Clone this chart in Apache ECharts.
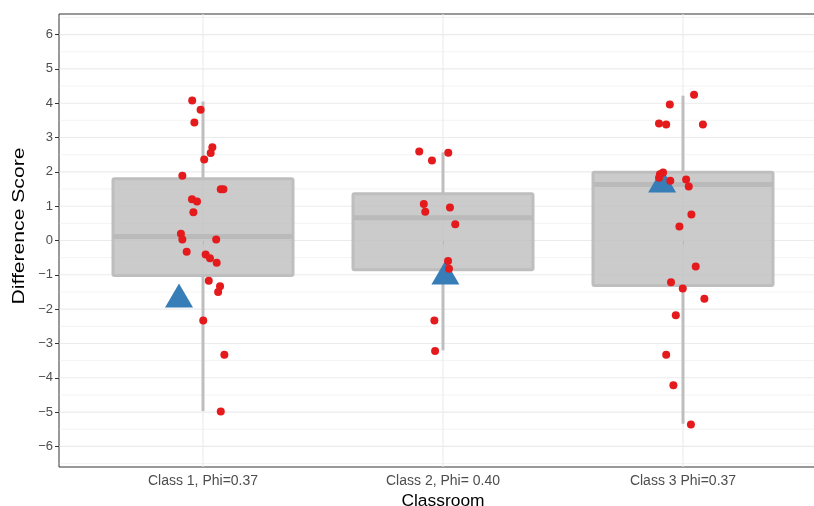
<!DOCTYPE html>
<html>
<head>
<meta charset="utf-8">
<script src="https://cdn.jsdelivr.net/npm/echarts@6/dist/echarts.min.js"></script>
<style>
  html, body { margin: 0; padding: 0; background: #ffffff; }
  #chart { width: 814px; height: 506px; }
</style>
</head>
<body>
<div id="chart"></div>
<script>
// Classroom labels (one per box, placed at x = 1, 2, 3)
var categories = ['Class 1, Phi=0.37', 'Class 2, Phi= 0.40', 'Class 3 Phi=0.37'];
var categoryPositions = [1, 2, 3];

// Y-axis ticks (major) and the half-step minor grid
var yTicks = [-6, -5, -4, -3, -2, -1, 0, 1, 2, 3, 4, 5, 6];
var yMinorTicks = [-6.5, -5.5, -4.5, -3.5, -2.5, -1.5, -0.5, 0.5, 1.5, 2.5, 3.5, 4.5, 5.5, 6.5];

// Box summaries per classroom
var boxLow    = [-4.97, -3.20, -5.34];
var boxQ1     = [-1.02, -0.85, -1.31];
var boxMedian = [ 0.12,  0.66,  1.63];
var boxQ3     = [ 1.80,  1.36,  1.99];
var boxHigh   = [ 4.05,  2.57,  4.22];

// Triangle markers (jittered position, score)
var triangleX = [0.900, 2.010, 2.913];
var triangleY = [-1.72, -1.05, 1.63];

// Individual difference scores (jittered x, score)
var class1X = [0.955, 0.990, 0.964, 1.039, 1.032, 1.005, 0.914, 1.074, 1.085, 0.954, 0.975, 0.960, 0.908,
               0.914, 1.055, 0.932, 1.011, 1.029, 1.057, 1.024, 1.071, 1.063, 1.001, 1.089, 1.074];
var class1Y = [4.08, 3.81, 3.44, 2.72, 2.55, 2.36, 1.89, 1.49, 1.49, 1.20, 1.14, 0.82, 0.20,
               0.03, 0.03, -0.33, -0.41, -0.52, -0.65, -1.17, -1.33, -1.50, -2.33, -3.33, -4.98];
var class2X = [1.901, 2.022, 1.954, 1.920, 1.926, 2.029, 2.051, 2.021, 2.025, 1.964, 1.967];
var class2Y = [2.59, 2.56, 2.33, 1.06, 0.84, 0.96, 0.47, -0.60, -0.82, -2.33, -3.22];
var class3X = [3.046, 2.945, 2.900, 2.930, 3.083, 2.917, 2.904, 2.900, 2.947, 3.013, 3.024, 3.035, 2.985,
               3.053, 2.950, 2.999, 3.089, 2.970, 2.930, 2.960, 3.033];
var class3Y = [4.25, 3.96, 3.41, 3.38, 3.38, 1.98, 1.93, 1.83, 1.74, 1.78, 1.57, 0.76, 0.41,
               -0.76, -1.22, -1.40, -1.70, -2.18, -3.33, -4.22, -5.36];

var FONT = '"Liberation Sans", Arial, Helvetica, sans-serif';
var X_MIN = 0.4, X_MAX = 3.6, Y_MIN = -6.6, Y_MAX = 6.6;
var BOX_WIDTH = 0.75;

function pairs(xs, ys) {
  return xs.map(function (x, i) { return [x, ys[i]]; });
}
var scorePoints = pairs(class1X, class1Y).concat(pairs(class2X, class2Y), pairs(class3X, class3Y));
var trianglePoints = pairs(triangleX, triangleY);
var boxRows = categoryPositions.map(function (x, i) {
  return [x, boxLow[i], boxQ1[i], boxMedian[i], boxQ3[i], boxHigh[i]];
});

function fmtNum(v) {
  return v < 0 ? '\u2212' + Math.abs(v) : String(v);
}

// Horizontal grid line renderer (major or minor)
function hLineRenderer(width) {
  return function (params, api) {
    var cs = params.coordSys;
    var y = api.coord([X_MIN, api.value(0)])[1];
    return {
      type: 'line',
      shape: { x1: cs.x + 0.5, y1: y, x2: cs.x + cs.width, y2: y },
      style: { stroke: '#ebebeb', lineWidth: width },
      silent: true
    };
  };
}

var chart = echarts.init(document.getElementById('chart'), null, { renderer: 'canvas' });

chart.setOption({
  animation: false,
  backgroundColor: '#ffffff',
  grid: {
    left: 59, top: 14, width: 768, height: 453,
    outerBoundsMode: 'none', containLabel: false,
    show: true, borderColor: '#333333', borderWidth: 1, backgroundColor: 'transparent'
  },
  // vertical axis title, stretched along its length
  graphic: [{
    type: 'text', x: 20, y: 226, rotation: Math.PI / 2, scaleX: 1.32, scaleY: 1,
    silent: true,
    style: {
      text: 'Difference Score', fill: '#000000',
      font: '16px "Liberation Sans", Arial, Helvetica, sans-serif',
      align: 'center', verticalAlign: 'middle'
    }
  }],
  xAxis: {
    type: 'value', min: X_MIN, max: X_MAX,
    name: 'Classroom', nameLocation: 'middle', nameGap: 24,
    nameTextStyle: { color: '#000000', fontSize: 17.4, fontFamily: FONT },
    axisLine: { show: false },
    splitLine: { show: false },
    axisTick: { show: true, customValues: categoryPositions, length: 4, lineStyle: { color: '#333333', width: 1 } },
    axisLabel: {
      customValues: categoryPositions, margin: 7,
      color: '#4d4d4d', fontSize: 14, fontFamily: FONT,
      formatter: function (v) { return categories[Math.round(v) - 1]; }
    }
  },
  yAxis: {
    type: 'value', min: Y_MIN, max: Y_MAX,
    axisLine: { show: false },
    splitLine: { show: false },
    axisTick: { show: true, customValues: yTicks, length: 4, lineStyle: { color: '#333333', width: 1 } },
    axisLabel: {
      customValues: yTicks, margin: 6,
      color: '#4d4d4d', fontSize: 13, fontFamily: FONT,
      formatter: fmtNum
    }
  },
  series: [
    {
      // minor horizontal grid
      type: 'custom', z: 1, silent: true,
      data: yMinorTicks.map(function (v) { return [v]; }),
      encode: { y: 0 },
      renderItem: hLineRenderer(0.6)
    },
    {
      // major horizontal grid
      type: 'custom', z: 1, silent: true,
      data: yTicks.map(function (v) { return [v]; }),
      encode: { y: 0 },
      renderItem: hLineRenderer(1.1)
    },
    {
      // vertical grid at each classroom
      type: 'custom', z: 1, silent: true,
      data: categoryPositions.map(function (v) { return [v]; }),
      encode: { x: 0 },
      renderItem: function (params, api) {
        var cs = params.coordSys;
        var x = api.coord([api.value(0), Y_MIN])[0];
        return {
          type: 'line',
          shape: { x1: x, y1: cs.y, x2: x, y2: cs.y + cs.height },
          style: { stroke: '#ebebeb', lineWidth: 1.1 }
        };
      }
    },
    {
      // boxes with whiskers and median
      type: 'custom', z: 2, silent: true,
      data: boxRows,
      encode: { x: 0, y: [1, 2, 3, 4, 5] },
      renderItem: function (params, api) {
        var x = api.value(0);
        var pLow = api.coord([x, api.value(1)]);
        var pQ1 = api.coord([x, api.value(2)]);
        var pMed = api.coord([x, api.value(3)]);
        var pQ3 = api.coord([x, api.value(4)]);
        var pHigh = api.coord([x, api.value(5)]);
        var half = api.size([BOX_WIDTH, 0])[0] / 2;
        var cx = pMed[0];
        var stroke = '#bebebe';
        return {
          type: 'group',
          children: [
            { type: 'line', shape: { x1: cx, y1: pQ3[1], x2: cx, y2: pHigh[1] },
              style: { stroke: stroke, lineWidth: 3 } },
            { type: 'line', shape: { x1: cx, y1: pQ1[1], x2: cx, y2: pLow[1] },
              style: { stroke: stroke, lineWidth: 3 } },
            { type: 'rect',
              shape: { x: cx - half, y: pQ3[1], width: half * 2, height: pQ1[1] - pQ3[1], r: 1.5 },
              style: { fill: 'rgba(190,190,190,0.8)', stroke: stroke, lineWidth: 3 } },
            { type: 'line', shape: { x1: cx - half, y1: pMed[1], x2: cx + half, y2: pMed[1] },
              style: { stroke: '#bababa', lineWidth: 5 } }
          ]
        };
      }
    },
    {
      type: 'scatter', z: 3, silent: true,
      symbol: 'triangle', symbolSize: [28, 24], symbolOffset: [0, -4],
      itemStyle: { color: '#377eb8', opacity: 1 },
      data: trianglePoints
    },
    {
      type: 'scatter', z: 4, silent: true,
      symbol: 'circle', symbolSize: 8,
      itemStyle: { color: '#e41a1c', opacity: 1 },
      data: scorePoints
    }
  ]
});
</script>
</body>
</html>
